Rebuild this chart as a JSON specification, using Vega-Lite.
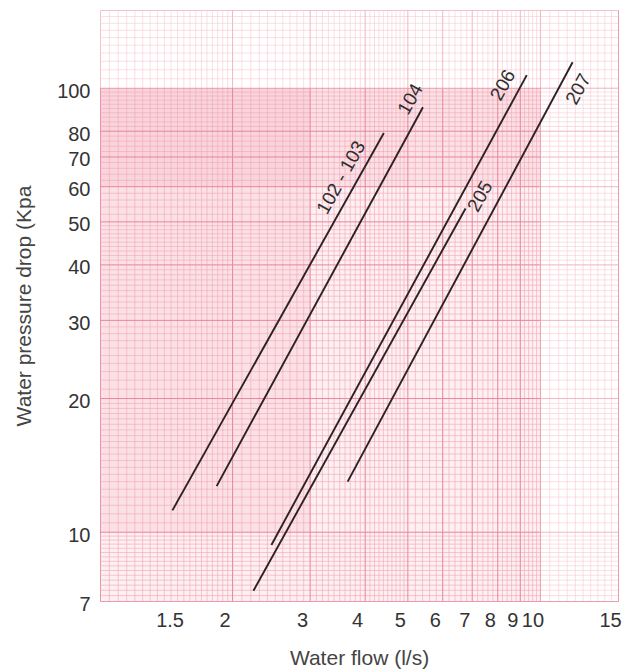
{
  "$schema": "https://vega.github.io/schema/vega-lite/v6.json",
  "width": 518,
  "height": 591,
  "autosize": {"type": "none"},
  "padding": {"left": 100, "top": 10, "right": 15, "bottom": 71},
  "background": "white",
  "config": {
    "view": {"stroke": "#ee9aab", "strokeWidth": 1},
    "font": "Liberation Sans"
  },
  "datasets": {
    "shade": [
      {"x1": 1, "x2": 10, "y1": 10, "y2": 100},
      {"x1": 1, "x2": 3, "y1": 10, "y2": 100},
      {"x1": 1, "x2": 10, "y1": 60, "y2": 100},
      {"x1": 1, "x2": 10, "y1": 7, "y2": 10}
    ],
    "fade": [
      {"x1": 1, "x2": 15, "y1": 100, "y2": 150},
      {"x1": 10, "x2": 15, "y1": 7, "y2": 100}
    ],
    "minorX": [
      {"v": 1.05}, {"v": 1.1}, {"v": 1.15}, {"v": 1.2}, {"v": 1.25}, {"v": 1.3}, {"v": 1.35}, {"v": 1.4}, {"v": 1.45}, {"v": 1.5},
      {"v": 1.55}, {"v": 1.6}, {"v": 1.65}, {"v": 1.7}, {"v": 1.75}, {"v": 1.8}, {"v": 1.85}, {"v": 1.9}, {"v": 1.95},
      {"v": 2.1}, {"v": 2.2}, {"v": 2.3}, {"v": 2.4}, {"v": 2.5}, {"v": 2.6}, {"v": 2.7}, {"v": 2.8}, {"v": 2.9},
      {"v": 3.1}, {"v": 3.2}, {"v": 3.3}, {"v": 3.4}, {"v": 3.5}, {"v": 3.6}, {"v": 3.7}, {"v": 3.8}, {"v": 3.9},
      {"v": 4.1}, {"v": 4.2}, {"v": 4.3}, {"v": 4.4}, {"v": 4.5}, {"v": 4.6}, {"v": 4.7}, {"v": 4.8}, {"v": 4.9},
      {"v": 5.2}, {"v": 5.4}, {"v": 5.6}, {"v": 5.8}, {"v": 6.2}, {"v": 6.4}, {"v": 6.6}, {"v": 6.8},
      {"v": 7.2}, {"v": 7.4}, {"v": 7.6}, {"v": 7.8}, {"v": 8.2}, {"v": 8.4}, {"v": 8.6}, {"v": 8.8},
      {"v": 9.2}, {"v": 9.4}, {"v": 9.6}, {"v": 9.8},
      {"v": 10.5}, {"v": 11}, {"v": 11.5}, {"v": 12}, {"v": 12.5}, {"v": 13}, {"v": 13.5}, {"v": 14}, {"v": 14.5}
    ],
    "majorX": [
      {"v": 2}, {"v": 3}, {"v": 4}, {"v": 5}, {"v": 6}, {"v": 7}, {"v": 8}, {"v": 9}, {"v": 10}
    ],
    "minorY": [
      {"v": 7.2}, {"v": 7.4}, {"v": 7.6}, {"v": 7.8}, {"v": 8}, {"v": 8.2}, {"v": 8.4}, {"v": 8.6}, {"v": 8.8}, {"v": 9}, {"v": 9.2}, {"v": 9.4}, {"v": 9.6}, {"v": 9.8},
      {"v": 10.5}, {"v": 11}, {"v": 11.5}, {"v": 12}, {"v": 12.5}, {"v": 13}, {"v": 13.5}, {"v": 14}, {"v": 14.5}, {"v": 15},
      {"v": 15.5}, {"v": 16}, {"v": 16.5}, {"v": 17}, {"v": 17.5}, {"v": 18}, {"v": 18.5}, {"v": 19}, {"v": 19.5},
      {"v": 21}, {"v": 22}, {"v": 23}, {"v": 24}, {"v": 25}, {"v": 26}, {"v": 27}, {"v": 28}, {"v": 29},
      {"v": 31}, {"v": 32}, {"v": 33}, {"v": 34}, {"v": 35}, {"v": 36}, {"v": 37}, {"v": 38}, {"v": 39},
      {"v": 41}, {"v": 42}, {"v": 43}, {"v": 44}, {"v": 45}, {"v": 46}, {"v": 47}, {"v": 48}, {"v": 49},
      {"v": 52}, {"v": 54}, {"v": 56}, {"v": 58}, {"v": 62}, {"v": 64}, {"v": 66}, {"v": 68},
      {"v": 72}, {"v": 74}, {"v": 76}, {"v": 78}, {"v": 82}, {"v": 84}, {"v": 86}, {"v": 88},
      {"v": 90}, {"v": 92}, {"v": 94}, {"v": 96}, {"v": 98},
      {"v": 105}, {"v": 110}, {"v": 115}, {"v": 120}, {"v": 125}, {"v": 130}, {"v": 135}, {"v": 140}, {"v": 145}
    ],
    "majorY": [
      {"v": 10}, {"v": 20}, {"v": 30}, {"v": 40}, {"v": 50}, {"v": 60}, {"v": 70}, {"v": 80}, {"v": 100}
    ],
    "curves": [
      {"model": "102 - 103", "flow": 1.46, "drop": 11.2},
      {"model": "102 - 103", "flow": 4.41, "drop": 79.3},
      {"model": "104", "flow": 1.84, "drop": 12.7},
      {"model": "104", "flow": 5.41, "drop": 90.6},
      {"model": "206", "flow": 2.45, "drop": 9.36},
      {"model": "206", "flow": 9.31, "drop": 107},
      {"model": "205", "flow": 2.23, "drop": 7.38},
      {"model": "205", "flow": 6.76, "drop": 53.6},
      {"model": "207", "flow": 3.65, "drop": 13.0},
      {"model": "207", "flow": 11.83, "drop": 114.4}
    ],
    "labels": [
      {"label": "102 - 103", "flow": 3.53, "drop": 62.9},
      {"label": "104", "flow": 5.07, "drop": 94.4},
      {"label": "206", "flow": 8.22, "drop": 101.5},
      {"label": "205", "flow": 7.3, "drop": 57.0},
      {"label": "207", "flow": 12.19, "drop": 99.5}
    ]
  },
  "layer": [
    {
      "data": {"name": "shade"},
      "mark": {"type": "rect", "fill": "#f07890", "opacity": 0.12},
      "encoding": {
        "x": {"field": "x1", "type": "quantitative", "scale": {"type": "log", "domain": [1, 15], "nice": false}},
        "x2": {"field": "x2"},
        "y": {"field": "y1", "type": "quantitative", "scale": {"type": "log", "domain": [7, 150], "nice": false}},
        "y2": {"field": "y2"}
      }
    },
    {
      "data": {"name": "minorX"},
      "mark": {"type": "rule", "stroke": "#f2a6b5", "strokeWidth": 0.6},
      "encoding": {
        "x": {"field": "v", "type": "quantitative", "scale": {"type": "log", "domain": [1, 15], "nice": false}}
      }
    },
    {
      "data": {"name": "minorY"},
      "mark": {"type": "rule", "stroke": "#f2a6b5", "strokeWidth": 0.6},
      "encoding": {
        "y": {"field": "v", "type": "quantitative", "scale": {"type": "log", "domain": [7, 150], "nice": false}}
      }
    },
    {
      "data": {"name": "majorX"},
      "mark": {"type": "rule", "stroke": "#e8859a", "strokeWidth": 1},
      "encoding": {
        "x": {"field": "v", "type": "quantitative", "scale": {"type": "log", "domain": [1, 15], "nice": false}}
      }
    },
    {
      "data": {"name": "majorY"},
      "mark": {"type": "rule", "stroke": "#e8859a", "strokeWidth": 1},
      "encoding": {
        "y": {"field": "v", "type": "quantitative", "scale": {"type": "log", "domain": [7, 150], "nice": false}}
      }
    },
    {
      "data": {"name": "fade"},
      "mark": {"type": "rect", "fill": "white", "opacity": 0.4},
      "encoding": {
        "x": {"field": "x1", "type": "quantitative", "scale": {"type": "log", "domain": [1, 15], "nice": false}},
        "x2": {"field": "x2"},
        "y": {"field": "y1", "type": "quantitative", "scale": {"type": "log", "domain": [7, 150], "nice": false}},
        "y2": {"field": "y2"}
      }
    },
    {
      "data": {"name": "curves"},
      "mark": {"type": "line", "stroke": "#2a2226", "strokeWidth": 1.9},
      "encoding": {
        "x": {
          "field": "flow", "type": "quantitative",
          "scale": {"type": "log", "domain": [1, 15], "nice": false},
          "axis": {
            "title": "Water flow (l/s)",
            "values": [1.5, 2, 3, 4, 5, 6, 7, 8, 9, 10, 15],
            "grid": false, "ticks": false, "domain": false,
            "labelFontSize": 20, "labelColor": "#333333", "labelPadding": 9, "labelOffset": -8,
            "labelFlush": false, "labelOverlap": false,
            "titleFontSize": 21, "titleFontWeight": "normal", "titleColor": "#444444", "titlePadding": 17
          }
        },
        "y": {
          "field": "drop", "type": "quantitative",
          "scale": {"type": "log", "domain": [7, 150], "nice": false},
          "axis": {
            "title": "Water pressure drop (Kpa",
            "values": [7, 10, 20, 30, 40, 50, 60, 70, 80, 100],
            "grid": false, "ticks": false, "domain": false,
            "labelFontSize": 20, "labelColor": "#333333", "labelPadding": 10,
            "labelFlush": false, "labelOverlap": false, "labelBaseline": "middle", "labelOffset": 3,
            "titleFontSize": 21, "titleFontWeight": "normal", "titleColor": "#444444", "titlePadding": 22
          }
        },
        "detail": {"field": "model"}
      }
    },
    {
      "data": {"name": "labels"},
      "mark": {"type": "text", "angle": -61, "fontSize": 19, "color": "#2e2e2e", "align": "center", "baseline": "middle"},
      "encoding": {
        "x": {"field": "flow", "type": "quantitative", "scale": {"type": "log", "domain": [1, 15], "nice": false}},
        "y": {"field": "drop", "type": "quantitative", "scale": {"type": "log", "domain": [7, 150], "nice": false}},
        "text": {"field": "label"}
      }
    }
  ]
}
